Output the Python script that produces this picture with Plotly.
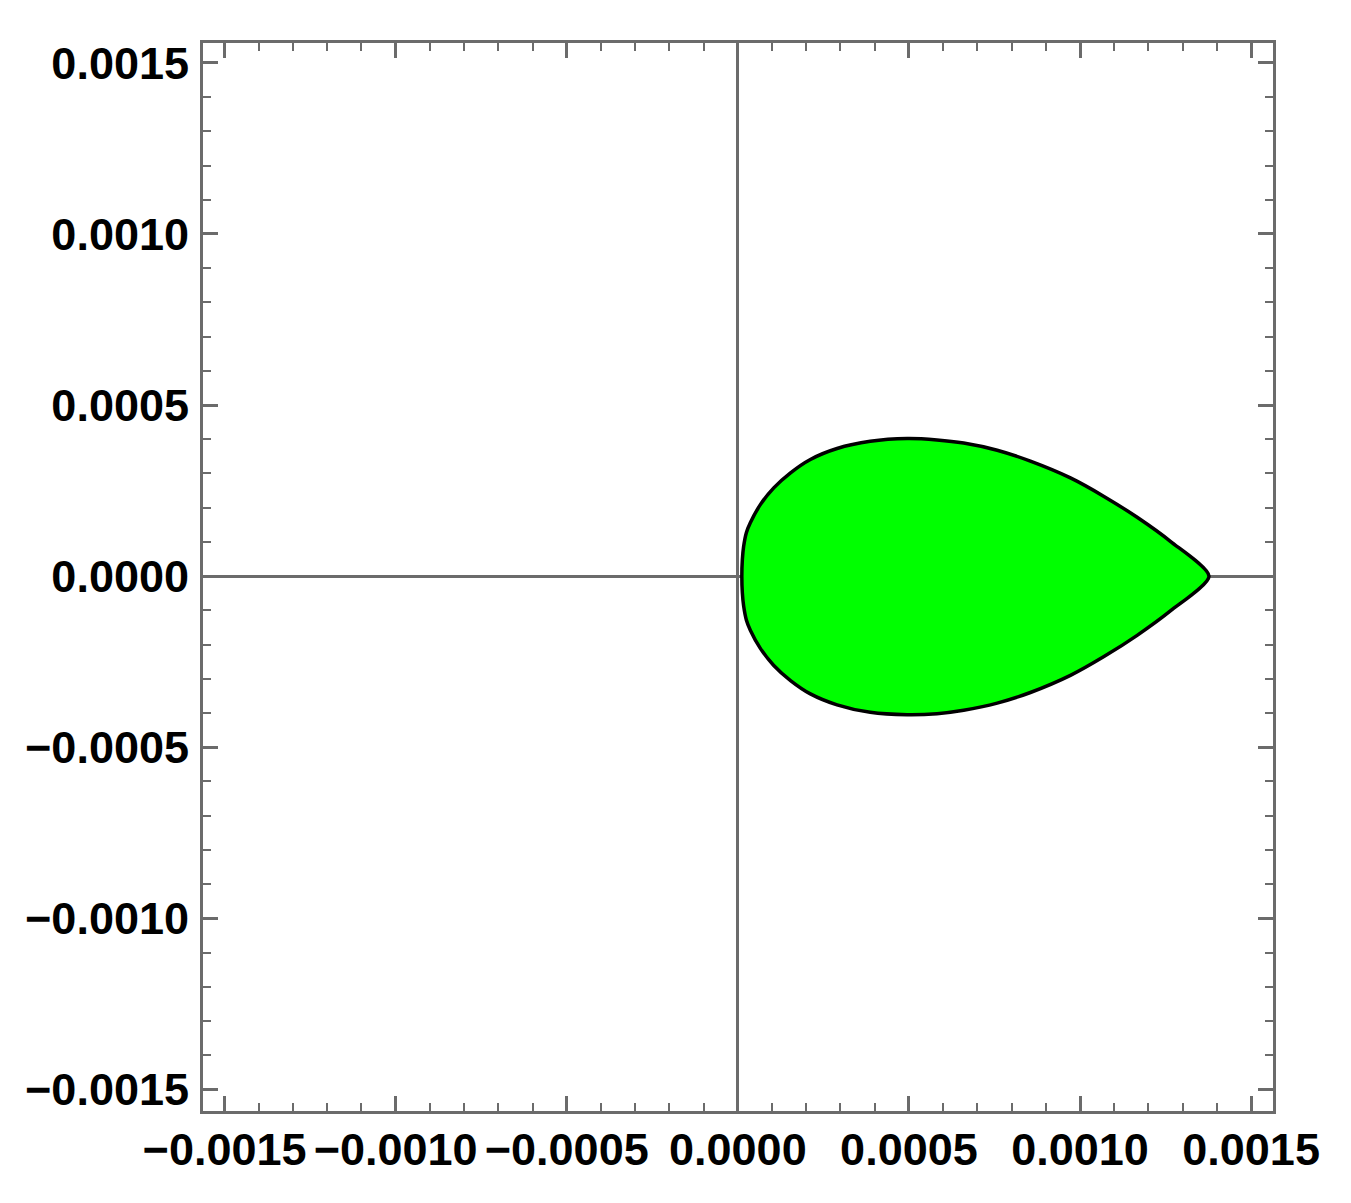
import plotly.graph_objects as go

# Boundary of the green region.
# Upper edge, left to right
upper_x = [0.0000117, 0.0000132, 0.0000170, 0.0000249, 0.0000365, 0.0000658, 0.000105,
           0.000154, 0.000212, 0.000290, 0.000387, 0.000495, 0.000582, 0.000660,
           0.000758, 0.000855, 0.000972, 0.001070, 0.001167, 0.001265, 0.001377]
upper_y = [0.0, 0.0000482, 0.0000871, 0.000127, 0.000156, 0.000209, 0.000258,
           0.000302, 0.000341, 0.000373, 0.000394, 0.000402, 0.000398, 0.000389,
           0.000368, 0.000336, 0.000287, 0.000233, 0.000172, 0.000101, 0.0]

# Lower edge, left to right
lower_x = [0.0000117, 0.0000132, 0.0000170, 0.0000249, 0.0000365, 0.0000658, 0.000105,
           0.000154, 0.000212, 0.000290, 0.000387, 0.000495, 0.000582, 0.000660,
           0.000758, 0.000855, 0.000972, 0.001070, 0.001167, 0.001265, 0.001377]
lower_y = [0.0, -0.0000485, -0.0000875, -0.000128, -0.000158, -0.000211, -0.000261,
           -0.000305, -0.000344, -0.000376, -0.000398, -0.000405, -0.000402, -0.000392,
           -0.000371, -0.000340, -0.000290, -0.000235, -0.000173, -0.000101, 0.0]

tick_vals = [-0.0015, -0.0010, -0.0005, 0.0, 0.0005, 0.0010, 0.0015]
tick_text = ["\u22120.0015", "\u22120.0010", "\u22120.0005", "0.0000", "0.0005", "0.0010", "0.0015"]

# Path starts at the sharp tip, runs along the upper edge to the left, then back along the lower edge
xs = upper_x[::-1] + lower_x[1:]
ys = upper_y[::-1] + lower_y[1:]

fig = go.Figure()
fig.add_trace(go.Scatter(
    x=xs, y=ys, mode="lines", fill="toself", fillcolor="#00ff00",
    line=dict(color="black", width=3.5, shape="spline", smoothing=0.7),
    hoverinfo="skip", showlegend=False,
))

gray = "#6b6b6b"
axis_common = dict(
    showgrid=False,
    zeroline=True, zerolinecolor=gray, zerolinewidth=2.5,
    showline=True, linecolor=gray, linewidth=3, mirror="ticks",
    ticks="inside", ticklen=15, tickwidth=2.7, tickcolor=gray,
    tickvals=tick_vals, ticktext=tick_text,
    tickfont=dict(family="Liberation Sans", size=45, color="black", weight="bold"),
    minor=dict(ticks="inside", dtick=0.0001, tick0=0, ticklen=8, tickwidth=2.2, tickcolor=gray, showgrid=False),
    layer="above traces",
    tickangle=0,
)

fig.update_layout(
    width=1343, height=1195,
    margin=dict(l=195, r=78, t=35, b=92),
    paper_bgcolor="white", plot_bgcolor="white",
    xaxis=dict(range=[-0.001563, 0.001564], ticklabelstandoff=-3, **axis_common),
    yaxis=dict(range=[-0.001563, 0.001558], ticklabelstandoff=2, **axis_common),
)

fig.write_html("out.html")
